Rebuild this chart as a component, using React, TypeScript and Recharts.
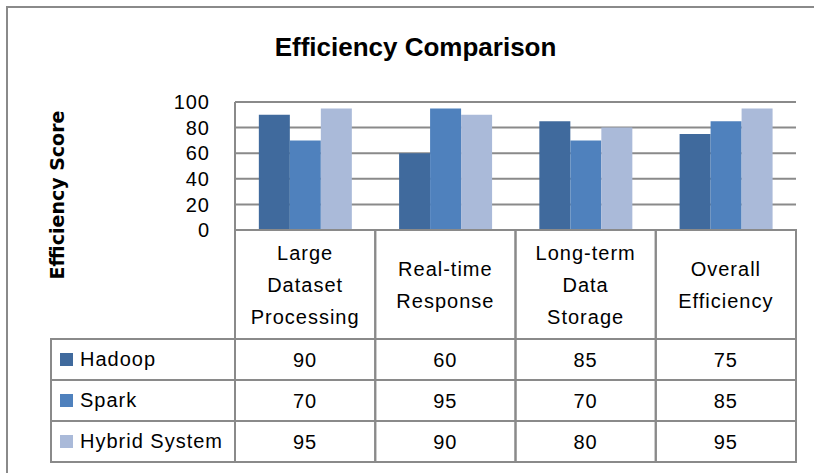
import React from 'react'
import { BarChart, Bar, XAxis, YAxis, CartesianGrid, Legend } from 'recharts'

// data
const categories = ['Large Dataset Processing', 'Real-time Response', 'Long-term Data Storage', 'Overall Efficiency']
const categoryLines = [
  ['Large', 'Dataset', 'Processing'],
  ['Real-time', 'Response'],
  ['Long-term', 'Data', 'Storage'],
  ['Overall', 'Efficiency'],
]
const hadoop = [90, 60, 85, 75]
const spark = [70, 95, 70, 85]
const hybrid = [95, 90, 80, 95]
const yTicks = [0, 20, 40, 60, 80, 100]

const series = [
  { key: 'hadoop', name: 'Hadoop', color: '#406A9D', values: hadoop },
  { key: 'spark', name: 'Spark', color: '#4F81BD', values: spark },
  { key: 'hybrid', name: 'Hybrid System', color: '#AABAD9', values: hybrid },
]

const chartData = categories.map((name, i) => ({
  name,
  hadoop: hadoop[i],
  spark: spark[i],
  hybrid: hybrid[i],
}))

// layout
const W = 814
const H = 473
const PLOT_LEFT = 235
const PLOT_RIGHT = 796
const PLOT_TOP = 102
const PLOT_BOTTOM = 230
const HEADER_H = 109
const ROW_H = 41
const TABLE_LEFT = 51
const COL_HALF = (PLOT_RIGHT - PLOT_LEFT) / categories.length / 2
const LINE = '#8a8a8a'
const FONT = "'Liberation Sans', Arial, sans-serif"

// one column of the data table, placed by the x axis scale
function TableColumn({ x, payload }: any) {
  const i = payload.index
  const lines = categoryLines[i]
  const left = x - COL_HALF
  const top = PLOT_BOTTOM
  const mid = top + HEADER_H / 2
  return (
    <g>
      <rect
        x={left}
        y={top}
        width={COL_HALF * 2}
        height={HEADER_H + ROW_H * series.length}
        fill="none"
        stroke={LINE}
        strokeWidth={2}
      />
      {series.map((s, r) => (
        <line
          key={s.key}
          x1={left}
          x2={left + COL_HALF * 2}
          y1={top + HEADER_H + ROW_H * r}
          y2={top + HEADER_H + ROW_H * r}
          stroke={LINE}
          strokeWidth={2}
        />
      ))}
      {lines.map((t, k) => (
        <text
          key={t}
          x={x}
          y={mid + (k - (lines.length - 1) / 2) * 32}
          textAnchor="middle"
          dominantBaseline="central"
          fontFamily={FONT}
          fontSize={20}
          letterSpacing={1}
          fill="#000"
        >
          {t}
        </text>
      ))}
      {series.map((s, r) => (
        <text
          key={s.key}
          x={x}
          y={top + HEADER_H + ROW_H * r + ROW_H / 2}
          textAnchor="middle"
          dominantBaseline="central"
          fontFamily={FONT}
          fontSize={20}
          letterSpacing={1}
          fill="#000"
        >
          {s.values[i]}
        </text>
      ))}
    </g>
  )
}

// legend column of the data table, kept in series order
function LegendColumn({ payload }: any) {
  const order = series.map((s) => s.name)
  const items = [...(payload || [])].sort((a: any, b: any) => order.indexOf(a.value) - order.indexOf(b.value))
  return (
    <div
      style={{
        width: PLOT_LEFT - TABLE_LEFT + 1,
        borderLeft: `2px solid ${LINE}`,
        borderTop: `2px solid ${LINE}`,
        boxSizing: 'border-box',
        fontFamily: FONT,
        fontSize: 20,
        letterSpacing: 1,
        color: '#000',
      }}
    >
      {items.map((entry: any) => (
        <div
          key={entry.value}
          style={{
            height: ROW_H,
            borderBottom: `2px solid ${LINE}`,
            boxSizing: 'border-box',
            display: 'flex',
            alignItems: 'center',
            paddingLeft: 8,
            gap: 7,
            whiteSpace: 'nowrap',
          }}
        >
          <div style={{ width: 13, height: 13, backgroundColor: entry.color }} />
          <span>{entry.value}</span>
        </div>
      ))}
    </div>
  )
}

export default function App() {
  return (
    <div style={{ position: 'absolute', left: 0, top: 0, width: W, height: H, background: '#fff' }}>
      <div
        style={{
          position: 'absolute',
          left: 6,
          top: 6,
          width: W - 6,
          height: H - 6,
          borderTop: `2px solid ${LINE}`,
          borderLeft: `2px solid ${LINE}`,
          boxSizing: 'border-box',
        }}
      />
      <div
        style={{
          position: 'absolute',
          left: 0,
          top: 32,
          width: 831,
          textAlign: 'center',
          fontFamily: FONT,
          fontSize: 26,
          fontWeight: 700,
          lineHeight: '30px',
          color: '#000',
        }}
      >
        Efficiency Comparison
      </div>
      <div
        style={{
          position: 'absolute',
          left: 57 - 100,
          top: 195 - 15,
          width: 200,
          height: 30,
          lineHeight: '30px',
          textAlign: 'center',
          transform: 'rotate(-90deg)',
          fontFamily: "'DejaVu Sans', sans-serif",
          fontSize: 19,
          fontWeight: 700,
          color: '#000',
        }}
      >
        Efficiency Score
      </div>
      <BarChart
        width={W}
        height={H}
        data={chartData}
        margin={{ top: PLOT_TOP, right: W - PLOT_RIGHT, bottom: 0, left: 0 }}
        barCategoryGap="17%"
        barGap={0}
      >
        <CartesianGrid vertical={false} stroke={LINE} strokeWidth={2} />
        <XAxis
          dataKey="name"
          height={H - PLOT_BOTTOM}
          interval={0}
          tickLine={false}
          tickSize={0}
          tickMargin={0}
          axisLine={{ stroke: LINE, strokeWidth: 2 }}
          tick={<TableColumn />}
        />
        <YAxis
          width={PLOT_LEFT}
          domain={[0, 100]}
          ticks={yTicks}
          interval={0}
          tickLine={false}
          tickSize={0}
          tickMargin={25}
          axisLine={{ stroke: LINE, strokeWidth: 2 }}
          tick={{ fill: '#000', fontSize: 20, fontFamily: FONT, letterSpacing: 1 }}
        />
        <Legend
          layout="vertical"
          align="center"
          verticalAlign="middle"
          wrapperStyle={{ position: 'absolute', left: TABLE_LEFT - 1, top: PLOT_BOTTOM + HEADER_H - 1, width: 'auto' }}
          content={<LegendColumn />}
        />
        {series.map((s) => (
          <Bar key={s.key} dataKey={s.key} name={s.name} fill={s.color} isAnimationActive={false} />
        ))}
      </BarChart>
    </div>
  )
}
